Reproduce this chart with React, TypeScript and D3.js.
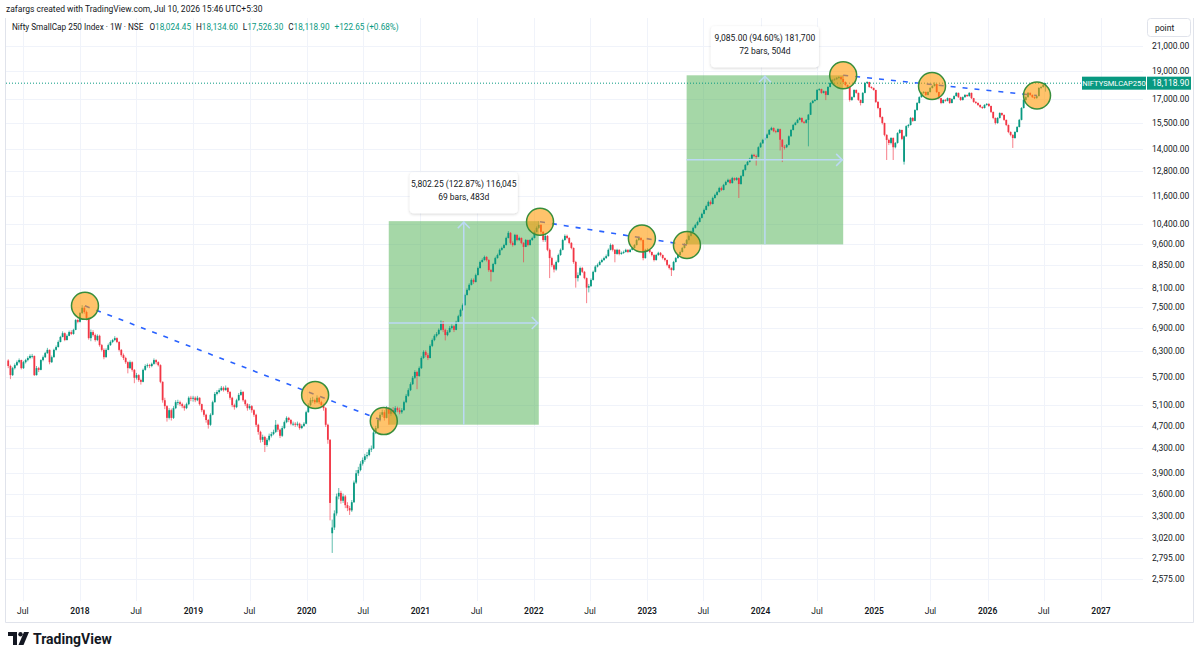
import React from 'react';
import * as d3 from 'd3';

// weekly bars: [close, high, low]; open = previous close unless listed in openGaps
type Bar = [number, number, number];

const firstWeek = '2017-05-15';
const firstOpen = 6080;

const bars2017: Bar[] = [
  [5950,6110,5900],[5740,5980,5650],[5900,5930,5720],[5970,6010,5870],[6040,6080,5950],[6090,6130,6010],
  [5900,6100,5870],[6040,6070,5880],[6090,6120,6010],[6140,6180,6060],[6190,6230,6110],[6190,6240,6130],
  [5740,6200,5720],[5900,5950,5730],[5860,5930,5810],[6090,6110,5850],[6160,6200,6060],[6260,6290,6140],
  [6340,6390,6240],[6040,6350,5990],[6160,6200,6020],[6340,6370,6150],[6410,6450,6320],[6540,6580,6400],
  [6670,6700,6530],[6770,6820,6660],[6590,6790,6560],[6700,6740,6580],[6800,6840,6690],[6750,6850,6720],
  [6860,6890,6730],[7130,7160,6850],[7080,7170,7040],
];
const bars2018: Bar[] = [
  [7330,7360,7060],[7480,7560,7300],[7360,7530,7310],[7190,7400,7120],[6640,7200,6600],[6800,6870,6560],
  [6720,6850,6680],[6590,6760,6550],[6700,6740,6560],[6460,6730,6420],[6340,6490,6300],[6160,6380,6110],
  [6340,6380,6150],[6460,6500,6330],[6540,6580,6440],[6590,6620,6510],[6640,6690,6560],[6540,6660,6510],
  [6340,6560,6300],[6210,6360,6170],[6140,6250,6090],[6040,6170,6000],[5900,6060,5780],[6040,6080,5880],
  [5860,6060,5820],[5680,5880,5560],[5740,5790,5640],[5630,5760,5590],[5590,5660,5530],[5860,5890,5580],
  [5950,5990,5840],[5970,6010,5910],[5950,6000,5900],[6000,6030,5920],[6090,6130,5980],[6040,6110,5990],
  [5970,6060,5940],[5590,5990,5560],[5200,5600,5150],[5080,5250,5020],[4850,5100,4780],[5000,5040,4820],
  [4850,5030,4800],[5040,5080,4830],[5160,5200,5020],[5160,5210,5100],[5120,5190,5080],[5080,5150,5040],
  [5040,5110,4990],[5120,5150,5020],[5250,5280,5100],[5230,5290,5180],[5250,5290,5170],
];
const bars2019: Bar[] = [
  [5200,5280,5160],[5250,5290,5180],[5120,5260,5090],[5000,5130,4960],[4910,5020,4870],[4810,4930,4760],
  [4720,4830,4650],[4910,4940,4700],[5160,5190,4900],[5330,5370,5150],[5370,5410,5300],[5410,5450,5340],
  [5460,5500,5390],[5410,5490,5380],[5460,5510,5400],[5370,5470,5330],[5250,5390,5210],[5100,5270,5060],
  [5060,5130,5010],[5200,5230,5040],[5310,5350,5180],[5370,5420,5290],[5200,5390,5170],[5120,5220,5080],
  [5040,5140,4990],[5080,5120,5010],[5000,5100,4950],[4910,5020,4870],[4720,4930,4680],[4590,4740,4540],
  [4450,4610,4400],[4500,4540,4410],[4360,4520,4240],[4450,4480,4330],[4520,4560,4420],[4550,4590,4490],
  [4590,4630,4530],[4720,4810,4570],[4630,4740,4590],[4520,4650,4480],[4660,4700,4500],[4770,4800,4640],
  [4850,4880,4750],[4810,4870,4770],[4740,4830,4710],[4740,4780,4700],[4720,4770,4680],[4740,4780,4690],
  [4660,4760,4630],[4700,4730,4640],[4740,4770,4680],[4960,4990,4730],
];
const bars2020: Bar[] = [
  [5100,5140,4950],[5200,5250,5080],[5200,5270,5150],[5160,5230,5120],[5250,5300,5140],[5160,5270,5120],
  [5100,5190,5060],[5040,5130,4990],[4720,5060,4680],[4450,4740,4380],[3470,4460,3240],[3150,3250,2850],
  [3330,3370,3120],[3560,3600,3300],[3610,3680,3520],[3500,3640,3460],[3560,3600,3470],[3440,3580,3400],
  [3400,3480,3360],[3370,3430,3310],[3480,3510,3350],[3760,3790,3470],[3900,3950,3740],[3950,4000,3860],
  [4050,4090,3930],[4110,4150,4020],[4170,4210,4080],[4190,4240,4130],[4280,4310,4170],[4300,4350,4240],
  [4580,4620,4290],[4660,4700,4550],[4810,4850,4640],[4910,4960,4780],[4960,5010,4870],[4850,5000,4800],
  [5040,5080,4840],[4930,5060,4722],[5000,5040,4890],[4960,5060,4920],[5040,5080,4930],[5000,5070,4960],
  [4960,5050,4920],[5000,5040,4930],[5160,5190,4990],[5290,5330,5140],[5410,5450,5270],[5540,5580,5390],
  [5680,5720,5520],[5810,5850,5650],[5720,5840,5430],[5900,5940,5700],
];
const bars2021: Bar[] = [
  [6140,6180,5880],[6290,6330,6120],[6210,6330,6160],[6140,6260,6090],[6440,6480,6130],[6590,6630,6410],
  [6700,6740,6560],[6750,6800,6660],[6860,6900,6720],[7080,7120,6840],[6860,7100,6800],[6720,6890,6580],
  [6800,6850,6690],[6910,6960,6780],[6960,7010,6870],[6860,6990,6800],[7080,7110,6850],[7240,7280,7060],
  [7420,7460,7220],[7560,7610,7390],[7870,7910,7540],[8030,8080,7850],[8190,8240,8000],[8350,8400,8170],
  [8280,8400,8220],[8510,8560,8270],[8750,8800,8500],[8960,9010,8730],[9030,9090,8940],[9140,9190,9010],
  [9030,9170,8980],[8680,9060,8620],[8620,8720,8300],[8890,8930,8600],[9100,9150,8870],[9210,9260,9080],
  [9400,9450,9190],[9470,9520,9370],[9580,9630,9450],[9850,9900,9560],[10050,10120,9830],[9660,10080,9600],
  [9580,9720,9520],[9970,10010,9560],[9770,9990,9720],[9850,9900,9730],[9660,9870,9610],[9510,9690,8950],
  [9770,9810,9500],[9580,9790,9530],[9770,9810,9560],[9850,9900,9740],
];
const bars2022: Bar[] = [
  [10090,10150,9830],[10250,10310,10070],[10370,10524,10200],[10090,10400,9980],[9770,10120,9700],[9930,9990,9700],
  [9400,9960,9350],[9100,9450,8410],[8850,9150,8780],[8700,8900,8600],[8960,9010,8660],[9210,9260,8930],
  [9400,9450,9180],[9770,9820,9380],[9930,9990,9740],[9850,9980,9800],[9660,9880,9610],[9470,9690,9420],
  [8960,9490,8900],[8410,9000,8100],[8510,8600,8300],[8750,8800,8480],[8620,8790,8580],[8410,8650,8370],
  [8100,8430,7620],[8150,8220,7950],[8350,8400,8120],[8620,8660,8330],[8800,8850,8600],[8860,8910,8770],
  [8960,9010,8840],[9030,9080,8930],[9100,9150,9000],[9170,9230,9070],[9400,9450,9150],[9580,9640,9380],
  [9400,9620,9340],[9250,9430,8950],[9400,9440,9220],[9250,9420,9200],[9290,9340,9220],[9320,9370,9250],
  [9400,9440,9300],[9320,9420,9280],[9400,9440,9300],[9470,9510,9380],[9580,9620,9450],[9770,9820,9560],
  [9850,9910,9740],[9770,9880,9720],[9100,9790,9020],[9400,9440,9080],
];
const bars2023: Bar[] = [
  [9400,9460,9330],[9320,9440,9270],[9210,9340,9160],[9030,9240,8980],[9210,9250,9010],[9290,9330,9180],
  [9210,9320,9160],[9100,9230,9050],[9030,9120,8980],[8860,9050,8810],[8750,8880,8700],[8680,8780,8480],
  [8960,9000,8660],[9100,9140,8940],[9210,9250,9080],[9320,9370,9190],[9470,9510,9300],[9620,9660,9450],
  [9770,9810,9604],[9930,9980,9750],[10090,10140,9910],[10250,10300,10070],[10370,10420,10220],[10490,10540,10340],
  [10660,10710,10470],[10830,10880,10640],[11000,11060,10810],[11170,11230,10980],[11350,11410,11150],[11260,11420,11200],
  [11530,11590,11240],[11670,11730,11500],[11800,11860,11640],[11990,12050,11780],[11900,12060,11850],[12140,12190,11880],
  [12280,12340,12110],[12380,12440,12250],[12230,12430,12180],[12470,12530,12200],[12380,12500,12330],[12470,12520,12340],
  [12180,12500,11530],[12570,12620,12150],[12870,12920,12540],[13130,13180,12840],[13290,13340,13100],[13460,13510,13260],
  [13660,13720,13430],[13600,13720,13540],[13560,13680,13100],[14080,14130,13540],
];
const bars2024: Bar[] = [
  [14300,14360,14050],[14490,14550,14270],[14600,14660,14450],[14800,14860,14570],[15070,15130,14770],[15190,15260,15030],
  [15000,15220,14940],[14950,15080,14880],[15120,15170,14920],[14500,15150,13900],[14100,14540,13280],[14080,14200,13950],
  [14210,14260,14030],[14700,14750,14180],[15070,15120,14680],[15370,15430,15040],[15500,15560,15340],[15680,15740,15470],
  [15800,15860,15650],[15560,15830,15500],[15500,15620,15440],[15680,15730,15460],[16000,16050,14130],[16760,16820,15980],
  [16900,16960,16720],[16960,17020,16850],[17640,17700,16930],[17700,17760,17580],[17440,17730,17380],[17550,17600,17400],
  [17300,17580,16950],[17850,17900,17280],[18130,18190,17820],[18350,18410,18100],[18400,18470,18300],[18500,18560,18360],
  [18560,18620,18440],[18420,18600,18360],[18200,18689,18150],[17990,18250,17900],[17850,18020,17780],[16960,17870,16850],
  [17150,17200,16900],[17640,17690,17120],[17440,17680,17380],[16960,17460,16900],[16760,16990,16600],[17440,17490,16740],
  [18130,18180,17410],[18200,18260,18060],[17850,18220,17790],[17780,17900,17720],[17640,17810,17590],
];
const bars2025: Bar[] = [
  [16830,17660,16760],[16430,16880,16350],[15860,16460,15780],[15490,15900,15400],[14780,15510,14700],[14490,14820,13390],
  [14320,14560,14200],[14600,14650,14240],[14080,14640,13390],[14320,14370,14020],[14890,14940,14280],[15070,15130,14850],
  [14550,15090,14480],[14700,14750,13150],[15300,15350,14660],[15370,15430,15200],[15800,15860,15330],[15620,15850,15560],
  [16300,16350,15600],[16760,16820,16260],[17150,17210,16720],[17440,17500,17110],[17500,17560,17380],[17300,17540,17240],
  [17500,17550,17260],[17780,17840,17460],[17920,17980,17740],[18060,18180,17880],[17500,18080,17430],[17080,17520,17000],
  [16760,17100,16680],[16960,17010,16720],[16900,17020,16840],[17080,17130,16860],[16760,17100,16700],[17020,17070,16730],
  [17220,17270,16990],[17440,17490,17190],[17150,17460,17090],[16960,17180,16900],[17150,17200,16920],[17300,17350,17110],
  [17220,17330,17160],[17440,17490,17180],[17080,17460,17020],[16830,17100,16770],[16760,16880,16690],[16630,16800,16560],
  [16500,16660,16430],[16430,16540,16370],[16630,16680,16400],[16700,16750,16580],
];
const bars2026: Bar[] = [
  [16560,16740,16500],[16180,16590,16110],[15800,16200,15720],[15490,15830,15400],[15800,15850,15440],[16110,16160,15760],
  [15990,16140,15930],[15680,16020,15620],[15370,15700,15300],[14950,15400,14880],[14780,14990,14700],[14600,14820,14040],
  [14950,15000,14560],[15250,15300,14920],[15680,15740,15220],[16430,16490,15650],[16960,17020,16400],[17150,17210,16920],
  [17440,17500,17120],[17300,17470,17240],[17150,17330,17090],[17080,17200,17020],[17220,17270,17050],[17780,17840,17200],
  [17850,17910,17700],[17996.25,18050,17800],[18118.9,18134.6,17526.3],
];

const openGaps: Record<string, number> = {
  '2020-03-23': 3080,
  '2025-04-07': 13300,
  '2026-07-06': 18024.45,
};

const priceTicks = [21000, 19000, 17000, 15500, 14000, 12800, 11600, 10400, 9600, 8850, 8100, 7500,
  6900, 6300, 5700, 5100, 4700, 4300, 3900, 3600, 3300, 3020, 2795, 2575];
const yearTicks = [2018, 2019, 2020, 2021, 2022, 2023, 2024, 2025, 2026, 2027];
const julyTicks = [2017, 2018, 2019, 2020, 2021, 2022, 2023, 2024, 2025, 2026];

// circled points and the dashed lines joining them
const markerDates = ['2018-01-17', '2020-01-28', '2020-09-05', '2022-01-21', '2022-12-15',
  '2023-05-09', '2024-09-23', '2025-07-06', '2026-06-09'];
const markerPrices = [7540, 5310, 4790, 10500, 9830, 9580, 18690, 17920, 17260];
const trendLines = [[0, 2], [3, 5], [6, 8]];

const ranges = [
  { from: '2020-09-21', to: '2022-01-17', low: 4722, high: 10524,
    line1: '5,802.25 (122.87%) 116,045', line2: '69 bars, 483d' },
  { from: '2023-05-08', to: '2024-09-23', low: 9604, high: 18689,
    line1: '9,085.00 (94.60%) 181,700', line2: '72 bars, 504d' },
];

const lastPrice = 18118.9;

const W = 1200;
const H = 659;
const paneLeft = 6;
const paneRight = 1143;
const paneTop = 18;
const paneBottom = 598;
const axisBottom = 622;
const frameRight = 1193;

const font = "Roboto, 'Noto Sans', sans-serif";
const upColor = '#089981';
const downColor = '#f23645';
const textColor = '#131722';
const gridColor = '#f0f3fa';

const parse = d3.utcParse('%Y-%m-%d');
const fmtKey = d3.utcFormat('%Y-%m-%d');

const xScale = d3.scaleUtc()
  .domain([Date.UTC(2018, 0, 1), Date.UTC(2027, 0, 1)])
  .range([80, 1101]);
const yScale = d3.scaleLog().domain([2575, 21000]).range([578.7, 45.7]);

const allBars: Bar[] = [...bars2017, ...bars2018, ...bars2019, ...bars2020, ...bars2021,
  ...bars2022, ...bars2023, ...bars2024, ...bars2025, ...bars2026];

const start = parse(firstWeek) as Date;
const candles = allBars.map((b, i) => {
  const date = d3.utcMonday.offset(start, i);
  const key = fmtKey(date);
  const open = openGaps[key] ?? (i === 0 ? firstOpen : allBars[i - 1][0]);
  return { date, open, close: b[0], high: b[1], low: b[2] };
});

const fmtPrice = d3.format(',.2f');

function Logo() {
  return (
    <g transform="translate(8,632)">
      <path d="M0 0 H9 V13 H5 V4 H0 Z" fill={textColor} />
      <circle cx={12.5} cy={2.2} r={2.2} fill={textColor} />
      <path d="M16 0 H21 L15.5 13 H10.5 Z" fill={textColor} />
      <text x={25} y={11.5} fontFamily={font} fontSize={14} fontWeight={700} fill={textColor}>TradingView</text>
    </g>
  );
}

export default function App() {
  const lastY = yScale(lastPrice);
  const markers = markerDates.map((d, i) => ({
    x: xScale(parse(d) as Date),
    y: yScale(markerPrices[i]),
  }));

  return (
    <svg width={W} height={H} viewBox={`0 0 ${W} ${H}`}
      style={{ position: 'absolute', left: 0, top: 0, background: '#fff' }}>
      <defs>
        <filter id="shadow" x="-20%" y="-30%" width="140%" height="170%">
          <feDropShadow dx={0} dy={1} stdDeviation={1.5} floodColor="#000" floodOpacity={0.18} />
        </filter>
        <clipPath id="pane">
          <rect x={paneLeft} y={paneTop} width={paneRight - paneLeft} height={paneBottom - paneTop} />
        </clipPath>
      </defs>
      <rect width={W} height={H} fill="#fff" />

      {/* frame: sides and bottom */}
      <path d={`M${paneLeft - 0.5},${paneTop} V${axisBottom + 0.5} H${frameRight + 0.5} V${paneTop}`}
        fill="none" stroke="#e0e3eb" />

      {/* grid */}
      <g stroke={gridColor} strokeWidth={1}>
        {priceTicks.map(p => (
          <line key={p} x1={paneLeft} x2={paneRight} y1={Math.round(yScale(p)) + 0.5} y2={Math.round(yScale(p)) + 0.5} />
        ))}
        {[...yearTicks.map(y => Date.UTC(y, 0, 1)), ...julyTicks.map(y => Date.UTC(y, 6, 1))].map(t => (
          <line key={t} y1={paneTop} y2={paneBottom + 3} x1={Math.round(xScale(t)) + 0.5} x2={Math.round(xScale(t)) + 0.5} />
        ))}
      </g>

      <g clipPath="url(#pane)">
        {/* price range boxes */}
        {ranges.map(r => {
          const x0 = xScale(parse(r.from) as Date);
          const x1 = xScale(parse(r.to) as Date);
          const y0 = yScale(r.high);
          const y1 = yScale(r.low);
          return <rect key={r.from} x={x0} y={y0} width={x1 - x0} height={y1 - y0} fill="rgba(76,175,80,0.5)" />;
        })}

        {/* candles */}
        {candles.map(c => {
          const x = xScale(c.date);
          const color = c.close >= c.open ? upColor : downColor;
          const yo = yScale(c.open);
          const yc = yScale(c.close);
          return (
            <g key={+c.date}>
              <line x1={x} x2={x} y1={yScale(c.high)} y2={yScale(c.low)} stroke={color} strokeWidth={0.9} opacity={0.7} />
              <rect x={x - 0.9} width={1.8} y={Math.min(yo, yc)} height={Math.max(0.9, Math.abs(yc - yo))} fill={color} />
            </g>
          );
        })}

        {/* range arrows */}
        {ranges.map(r => {
          const x0 = xScale(parse(r.from) as Date);
          const x1 = xScale(parse(r.to) as Date);
          const y0 = yScale(r.high);
          const y1 = yScale(r.low);
          const mx = (x0 + x1) / 2;
          const my = (y0 + y1) / 2;
          return (
            <g key={r.to} stroke="#bcd9f5" strokeWidth={1.5} fill="none">
              <line x1={mx} x2={mx} y1={y1} y2={y0} />
              <polyline points={`${mx - 6},${y0 + 7} ${mx},${y0 + 1} ${mx + 6},${y0 + 7}`} />
              <line x1={x0} x2={x1} y1={my} y2={my} />
              <polyline points={`${x1 - 7},${my - 6} ${x1 - 1},${my} ${x1 - 7},${my + 6}`} />
            </g>
          );
        })}

        {/* last price line */}
        <line x1={paneLeft} x2={paneRight} y1={lastY} y2={lastY} stroke={upColor} strokeWidth={1} strokeDasharray="1 2" />

        {/* dashed trend lines */}
        {trendLines.map(([a, b]) => (
          <line key={a} x1={markers[a].x} y1={markers[a].y} x2={markers[b].x} y2={markers[b].y}
            stroke="#2962ff" strokeWidth={1.6} strokeDasharray="5 7" />
        ))}

        {/* circles */}
        {markers.map((m, i) => (
          <circle key={i} cx={m.x} cy={m.y} r={13.5} fill="rgba(255,152,0,0.58)" stroke="#388e3c" strokeWidth={1.5} />
        ))}
      </g>

      {/* range labels */}
      {ranges.map(r => {
        const x0 = xScale(parse(r.from) as Date);
        const x1 = xScale(parse(r.to) as Date);
        const mx = (x0 + x1) / 2;
        const top = yScale(r.high);
        const bw = 108;
        const bh = 41;
        return (
          <g key={r.line1}>
            <rect x={mx - bw / 2} y={top - 8 - bh} width={bw} height={bh} rx={4} fill="#fff" filter="url(#shadow)" />
            <text x={mx} y={top - 8 - bh + 15} textAnchor="middle" fontFamily={font} fontSize={8.5} fill={textColor}>{r.line1}</text>
            <text x={mx} y={top - 8 - bh + 28} textAnchor="middle" fontFamily={font} fontSize={8.5} fill={textColor}>{r.line2}</text>
          </g>
        );
      })}

      {/* price axis */}
      <g fontFamily={font} fontSize={8.5} fill={textColor}>
        {priceTicks.map(p => (
          <text key={p} x={1152} y={yScale(p)} dy="0.35em">{fmtPrice(p)}</text>
        ))}
      </g>
      <rect x={1147.5} y={18.5} width={43} height={18} rx={3} fill="#fff" stroke="#e0e3eb" />
      <text x={1155} y={30.5} fontFamily={font} fontSize={8.5} fill={textColor}>point</text>

      {/* last price labels */}
      <rect x={1082} y={lastY - 6.5} width={64} height={13} fill={upColor} />
      <text x={1114} y={lastY} dy="0.35em" textAnchor="middle" fontFamily={font} fontSize={7.6} fill="#fff">NIFTYSMLCAP250</text>
      <rect x={1147} y={lastY - 6.5} width={44} height={13} fill={upColor} />
      <text x={1152} y={lastY} dy="0.35em" fontFamily={font} fontSize={8.5} fill="#fff">{fmtPrice(lastPrice)}</text>

      {/* time axis */}
      <g fontFamily={font} fontSize={8.5} fill={textColor} textAnchor="middle">
        {yearTicks.map(y => (
          <text key={y} x={xScale(Date.UTC(y, 0, 1))} y={611} dy="0.35em" fontWeight={600}>{y}</text>
        ))}
        {julyTicks.map(y => (
          <text key={y} x={xScale(Date.UTC(y, 6, 1))} y={611} dy="0.35em">Jul</text>
        ))}
      </g>

      {/* header */}
      <text x={6} y={12} fontFamily={font} fontSize={8.5} fill={textColor}>
        zafargs created with TradingView.com, Jul 10, 2026 15:46 UTC+5:30
      </text>
      <text x={12} y={30} fontFamily={font} fontSize={8.2} fill={textColor}>
        <tspan>Nifty SmallCap 250 Index · 1W · NSE</tspan>
        <tspan dx={6}>O</tspan><tspan fill={upColor}>18,024.45</tspan>
        <tspan dx={5}>H</tspan><tspan fill={upColor}>18,134.60</tspan>
        <tspan dx={5}>L</tspan><tspan fill={upColor}>17,526.30</tspan>
        <tspan dx={5}>C</tspan><tspan fill={upColor}>18,118.90</tspan>
        <tspan dx={5} fill={upColor}>+122.65 (+0.68%)</tspan>
      </text>

      <Logo />
    </svg>
  );
}
